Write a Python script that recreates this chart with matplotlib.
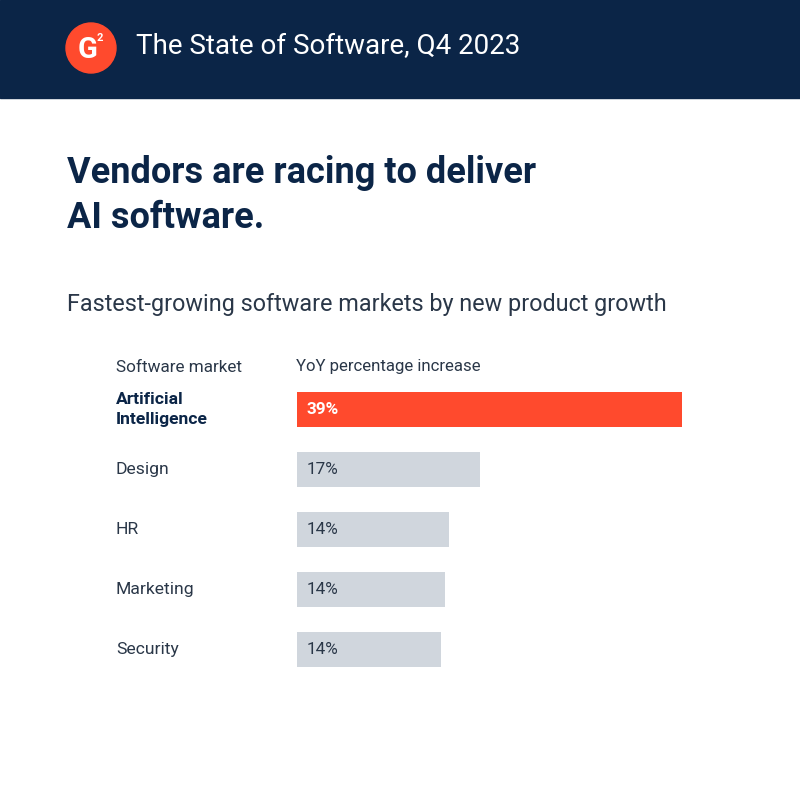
import matplotlib.pyplot as plt
from matplotlib.patches import Rectangle, Circle
from matplotlib.transforms import blended_transform_factory

plt.rcParams['font.family'] = ['Roboto', 'DejaVu Sans']

# data
markets = ['Artificial\nIntelligence', 'Design', 'HR', 'Marketing', 'Security']
bar_values = [39, 18.5, 15.4, 15.0, 14.6]   # bar lengths as drawn
value_labels = ['39%', '17%', '14%', '14%', '14%']

navy = '#0b2547'
red = '#ff4a2d'
grey_bar = '#d0d6dd'
text_dark = '#2a3748'

W = 800
fig = plt.figure(figsize=(8, 8), dpi=100)
fig.patch.set_facecolor('white')

def fy(py):
    return 1 - py / W

# header band
fig.patches.append(Rectangle((0, fy(98)), 1, 98 / W, transform=fig.transFigure,
                             color=navy, zorder=0))
fig.patches.append(Circle((91 / W, fy(48)), 25 / W, transform=fig.transFigure,
                          color=red, zorder=1))
fig.text(88 / W, fy(50), 'G', color='white', fontsize=21, fontweight='bold',
         ha='center', va='center', zorder=2)
fig.text(100 / W, fy(38), '2', color='white', fontsize=8, fontweight='bold',
         ha='center', va='center', zorder=2)
fig.text(136 / W, fy(47), 'The State of Software, Q4 2023', color='white',
         fontsize=20, ha='left', va='center')

# title + subtitle
fig.text(67 / W, fy(173), 'Vendors are racing to deliver', color=navy,
         fontsize=26, fontweight='bold', ha='left', va='center')
fig.text(67 / W, fy(218), 'AI software.', color=navy,
         fontsize=26, fontweight='bold', ha='left', va='center')
fig.text(67 / W, fy(305), 'Fastest-growing software markets by new product growth',
         color=text_dark, fontsize=16.8, ha='left', va='center')

# column headers
fig.text(116 / W, fy(368), 'Software market', color=text_dark, fontsize=12.3,
         ha='left', va='center')
fig.text(296 / W, fy(366), 'YoY percentage increase', color=text_dark,
         fontsize=12.1, ha='left', va='center')

# bars
ax = fig.add_axes([297 / W, fy(679.5), (682 - 297) / W, 300 / W])
y = list(range(len(markets)))
colors = [red] + [grey_bar] * (len(markets) - 1)
ax.barh(y, bar_values, height=35 / 60, color=colors)
ax.set_xlim(0, bar_values[0])
ax.set_ylim(len(markets) - 0.5, -0.5)
ax.axis('off')

tr = blended_transform_factory(fig.transFigure, ax.transData)
for i, (name, lab) in enumerate(zip(markets, value_labels)):
    first = i == 0
    ax.text(116 / W, i, name, transform=tr, ha='left', va='center',
            fontsize=12.6, color=navy if first else text_dark,
            fontweight='bold' if first else 'normal', linespacing=1.45)
    ax.text(1.0, i, lab, ha='left', va='center', fontsize=12.3,
            color='white' if first else text_dark,
            fontweight='bold' if first else 'normal')

fig.savefig('out.png', dpi=100)
